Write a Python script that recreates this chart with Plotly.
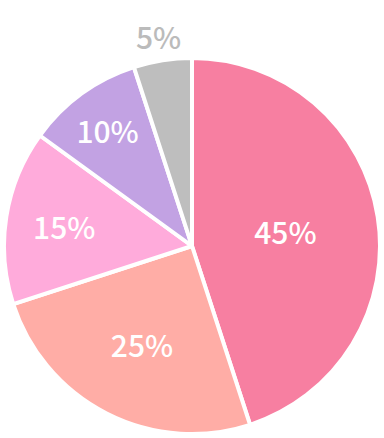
import math
import plotly.graph_objects as go

labels = ["A", "B", "C", "D", "E"]
values = [45, 25, 15, 10, 5]
colors = ["#F77FA1", "#FFADA6", "#FFABDB", "#C2A2E3", "#BEBEBE"]
inside = [True, True, True, True, False]

W, H = 384, 438
cx_px, cy_px, r_px = 192, 246, 188  # pie centre / radius in pixels

dom_x = [(cx_px - r_px) / W, (cx_px + r_px) / W]
dom_y = [(H - cy_px - r_px) / H, (H - cy_px + r_px) / H]
dom_x = [max(0, dom_x[0]), min(1, dom_x[1])]

templates = ["%{value}%" if i else "" for i in inside]
FONT = "Noto Sans CJK JP"

fig = go.Figure(go.Pie(
    labels=labels,
    values=values,
    sort=False,
    direction="clockwise",
    rotation=0,
    marker=dict(colors=colors, line=dict(color="#FFFFFF", width=4)),
    texttemplate=templates,
    textposition="inside",
    insidetextorientation="horizontal",
    textfont=dict(family=FONT, size=30, color="#FFFFFF", weight=500),
    hoverinfo="skip",
    showlegend=False,
    domain=dict(x=dom_x, y=dom_y),
))

# outside labels for small slices, placed along the slice's mid-angle
total = sum(values)
cum = 0
for v, ins in zip(values, inside):
    mid = (cum + v / 2) / total * 2 * math.pi
    cum += v
    if ins:
        continue
    rl = r_px * 1.13
    x_px = cx_px + math.sin(mid) * rl
    y_px = cy_px - math.cos(mid) * rl
    fig.add_annotation(
        x=x_px / W, y=1 - y_px / H, xref="paper", yref="paper",
        xanchor="center", yanchor="middle",
        text=f"{v}%", showarrow=False,
        font=dict(family=FONT, size=30, color="#BBBBBB", weight=500),
    )

fig.update_layout(
    width=W, height=H,
    margin=dict(l=0, r=0, t=0, b=0),
    paper_bgcolor="#FFFFFF",
    plot_bgcolor="#FFFFFF",
)

fig.write_html(
    "out.html",
    config={"displayModeBar": False},
    post_script="document.body.style.margin='0';document.body.style.overflow='hidden';",
)
